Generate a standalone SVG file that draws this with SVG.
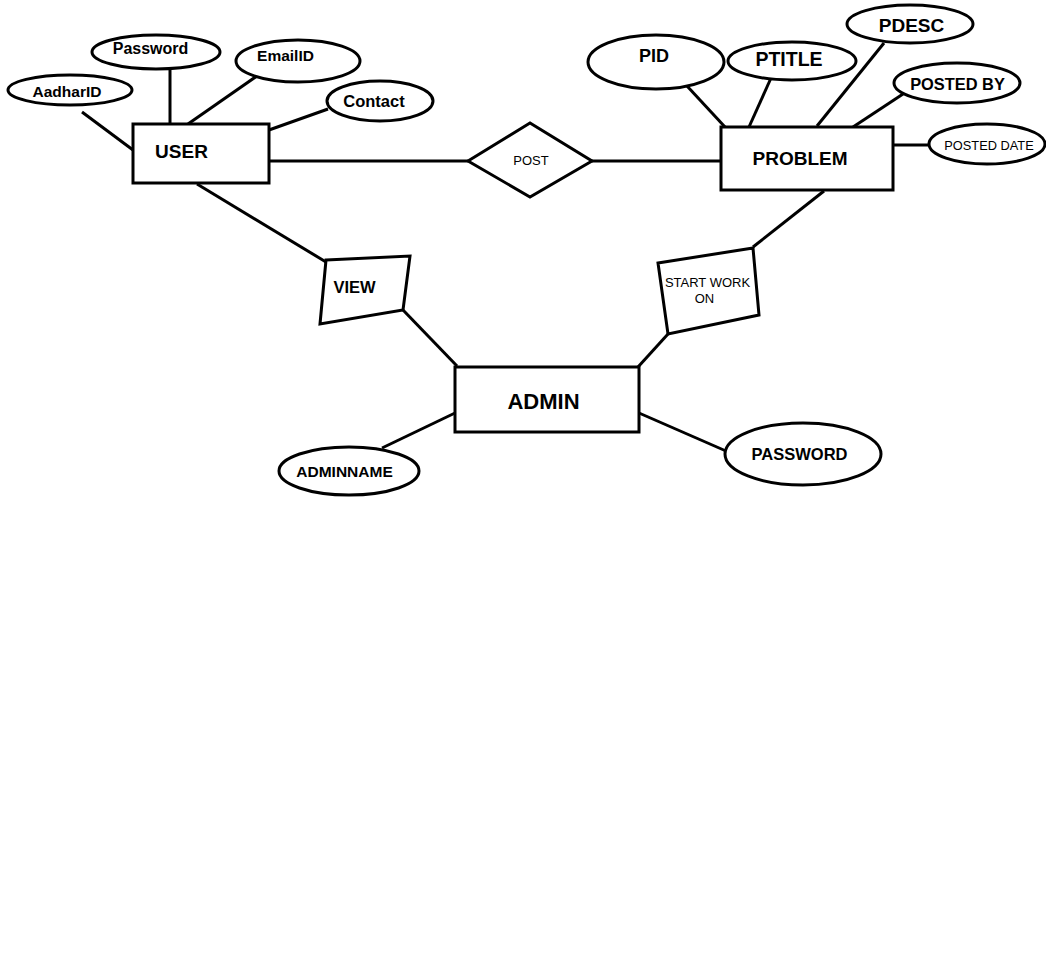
<svg xmlns="http://www.w3.org/2000/svg" width="1046" height="968" viewBox="0 0 1046 968">
  <style>
    .shape { fill: #fff; stroke: #000; stroke-width: 3; }
    .link { fill: none; stroke: #000; stroke-width: 3; }
    text { font-family: "Liberation Sans", Arial, sans-serif; fill: #000; text-anchor: middle; }
    .b { font-weight: bold; }
    .r { font-weight: normal; }
  </style>
  <rect width="1046" height="968" fill="#fff"/>

  <!-- connectors -->
  <g id="connectors">
    <line class="link" x1="82" y1="112" x2="133" y2="150"/>
    <line class="link" x1="170" y1="69" x2="170" y2="124"/>
    <line class="link" x1="257" y1="76" x2="188" y2="124"/>
    <line class="link" x1="328" y1="109" x2="269" y2="130"/>
    <line class="link" x1="269" y1="161" x2="468" y2="161"/>
    <line class="link" x1="592" y1="161" x2="721" y2="161"/>
    <line class="link" x1="197" y1="184" x2="326" y2="262"/>
    <line class="link" x1="403" y1="310" x2="457" y2="366"/>
    <line class="link" x1="824" y1="191" x2="753" y2="247"/>
    <line class="link" x1="668" y1="334" x2="638" y2="367"/>
    <line class="link" x1="687" y1="86" x2="725" y2="127"/>
    <line class="link" x1="771" y1="78" x2="749" y2="127"/>
    <line class="link" x1="884" y1="43" x2="817" y2="126"/>
    <line class="link" x1="903" y1="94" x2="853" y2="127"/>
    <line class="link" x1="893" y1="145" x2="928" y2="145"/>
    <line class="link" x1="455" y1="413" x2="382" y2="448"/>
    <line class="link" x1="639" y1="413" x2="726" y2="451"/>
  </g>

  <!-- USER entity and attributes -->
  <g id="user">
    <rect class="shape" x="133" y="124" width="136" height="59"/>
    <text class="b" x="181.5" y="158" font-size="19">USER</text>
  </g>
  <g id="user-aadharid">
    <ellipse class="shape" cx="70" cy="90" rx="62" ry="15"/>
    <text class="b" x="67" y="97" font-size="15.5">AadharID</text>
  </g>
  <g id="user-password">
    <ellipse class="shape" cx="156" cy="52" rx="64" ry="17"/>
    <text class="b" x="150.5" y="54" font-size="16">Password</text>
  </g>
  <g id="user-emailid">
    <ellipse class="shape" cx="298" cy="61" rx="62" ry="21"/>
    <text class="b" x="285.5" y="61" font-size="15.5">EmailID</text>
  </g>
  <g id="user-contact">
    <ellipse class="shape" cx="380" cy="101" rx="53" ry="20"/>
    <text class="b" x="374" y="107" font-size="16.5">Contact</text>
  </g>

  <!-- POST relationship -->
  <g id="post">
    <polygon class="shape" points="468,161 530,123 592,161 530,197"/>
    <text class="r" x="531" y="165" font-size="13">POST</text>
  </g>

  <!-- PROBLEM entity and attributes -->
  <g id="problem">
    <rect class="shape" x="721" y="127" width="172" height="63"/>
    <text class="b" x="800" y="165" font-size="19">PROBLEM</text>
  </g>
  <g id="problem-pid">
    <ellipse class="shape" cx="656" cy="62" rx="68" ry="27"/>
    <text class="b" x="654" y="62" font-size="18">PID</text>
  </g>
  <g id="problem-ptitle">
    <ellipse class="shape" cx="792" cy="61" rx="64" ry="19"/>
    <text class="b" x="789" y="66" font-size="19.5">PTITLE</text>
  </g>
  <g id="problem-pdesc">
    <ellipse class="shape" cx="910" cy="24" rx="63" ry="19"/>
    <text class="b" x="911.5" y="32" font-size="19">PDESC</text>
  </g>
  <g id="problem-postedby">
    <ellipse class="shape" cx="957" cy="83" rx="63" ry="20"/>
    <text class="b" x="957.5" y="90" font-size="16.4">POSTED BY</text>
  </g>
  <g id="problem-posteddate">
    <ellipse class="shape" cx="987" cy="144" rx="58" ry="20"/>
    <text class="r" x="989" y="150" font-size="12.8">POSTED DATE</text>
  </g>

  <!-- VIEW relationship -->
  <g id="view">
    <polygon class="shape" points="326,260 410,256 403,310 320,324"/>
    <text class="b" x="354.5" y="293" font-size="16.5">VIEW</text>
  </g>

  <!-- START WORK ON relationship -->
  <g id="start-work-on">
    <polygon class="shape" points="658,263 753,248 759,315 668,334"/>
    <text class="r" x="707.5" y="287" font-size="13">START WORK</text>
    <text class="r" x="704.5" y="303" font-size="13">ON</text>
  </g>

  <!-- ADMIN entity and attributes -->
  <g id="admin">
    <rect class="shape" x="455" y="367" width="184" height="65"/>
    <text class="b" x="543.5" y="409" font-size="22">ADMIN</text>
  </g>
  <g id="admin-adminname">
    <ellipse class="shape" cx="349" cy="471" rx="70" ry="24"/>
    <text class="b" x="344.5" y="477" font-size="15.5">ADMINNAME</text>
  </g>
  <g id="admin-password">
    <ellipse class="shape" cx="803" cy="454" rx="78" ry="31"/>
    <text class="b" x="799.5" y="460" font-size="16.5">PASSWORD</text>
  </g>
</svg>
